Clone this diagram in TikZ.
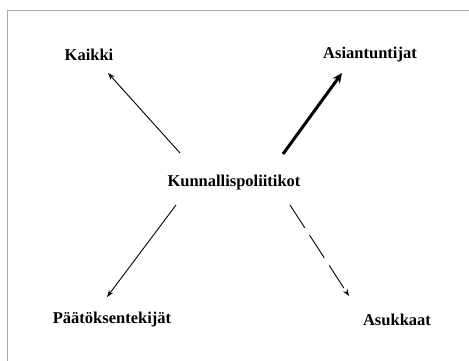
\documentclass[tikz,border=0pt]{standalone}
\usepackage{fontspec}
\setmainfont{Liberation Serif}
\usetikzlibrary{arrows.meta}

\begin{document}
\begin{tikzpicture}[x=1pt, y=-1pt,
    every node/.style={font=\fontsize{16.5}{20}\selectfont\bfseries, inner sep=0pt},
    link/.style={line width=0.9pt, -{Stealth[length=7pt, width=5pt]}}]
    \useasboundingbox (0,0) rectangle (469,361);
    \draw[gray!70, line width=0.6pt] (7,361) -- (7,10) -- (469,10);

    \node (kp) at (234, 183) {Kunnallispoliitikot};
    \node (kaikki) at (89, 55) {Kaikki};
    \node (asiant) at (370, 55) {Asiantuntijat};
    \node (paat) at (112, 320) {P\"a\"at\"oksentekij\"at};
    \node (asuk) at (397, 320) {Asukkaat};

    \coordinate (kaikkiA) at (180, 153);
    \coordinate (kaikkiB) at (108, 73);
    \coordinate (asiantA) at (283, 154);
    \coordinate (asiantB) at (342, 73);
    \coordinate (paatA) at (176, 205);
    \coordinate (paatB) at (107, 297);
    \coordinate (asukA) at (290, 205);
    \coordinate (asukB) at (349, 296);

    \draw[link] (kaikkiA) -- (kaikkiB);
    \draw[line width=3pt, -{Stealth[length=10pt, width=9pt]}] (asiantA) -- (asiantB);
    \draw[link] (paatA) -- (paatB);
    \draw[link, dash pattern=on 27pt off 9pt] (asukA) -- (asukB);
\end{tikzpicture}
\end{document}
